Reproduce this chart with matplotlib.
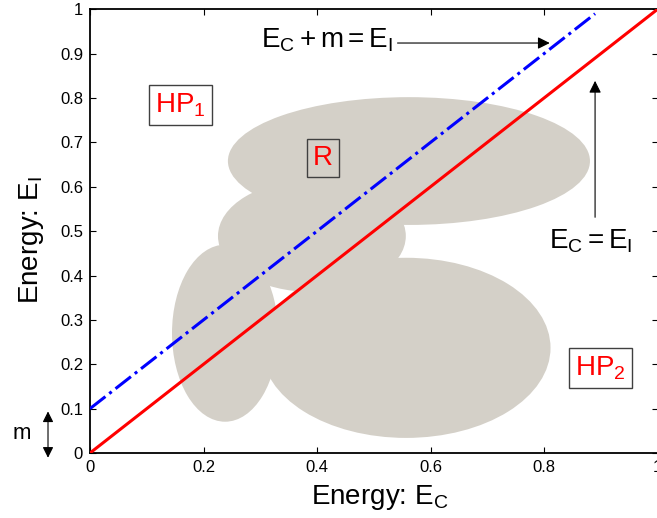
import numpy as np
import matplotlib.pyplot as plt
from matplotlib.patches import Ellipse

plt.rcParams['font.family'] = ['Liberation Sans', 'DejaVu Sans']
plt.rcParams['mathtext.fontset'] = 'custom'
plt.rcParams['mathtext.rm'] = 'Liberation Sans'
plt.rcParams['mathtext.it'] = 'Liberation Sans'

# region ellipses: centre x, centre y, width, height (data units)
ell_cx = [0.562, 0.391, 0.238, 0.557]
ell_cy = [0.658, 0.489, 0.270, 0.237]
ell_w = [0.638, 0.331, 0.187, 0.509]
ell_h = [0.288, 0.252, 0.399, 0.406]

m = 0.1
x_red = np.array([0.0, 1.0])
x_blue = np.array([0.0, 0.89])

x_ticks = [0, 0.2, 0.4, 0.6, 0.8, 1]
x_labels = ['0', '0.2', '0.4', '0.6', '0.8', '1']
y_ticks = [0, 0.1, 0.2, 0.3, 0.4, 0.5, 0.6, 0.7, 0.8, 0.9, 1]
y_labels = ['0', '0.1', '0.2', '0.3', '0.4', '0.5', '0.6', '0.7', '0.8', '0.9', '1']

gray = (212/255, 208/255, 200/255)

fig = plt.figure(figsize=(6.57, 5.18), dpi=100)
ax = fig.add_axes([90/657, 65/518, 567.5/657, 443.7/518])

for cx, cy, w, h in zip(ell_cx, ell_cy, ell_w, ell_h):
    ax.add_patch(Ellipse((cx, cy), w, h, facecolor=gray, edgecolor='none', zorder=1))

ax.plot(x_red, x_red, color='red', linewidth=2.2, zorder=3)
ax.plot(x_blue, x_blue + m, color='blue', linewidth=2.2, linestyle='-.', zorder=3)

ax.set_xlim(0, 1)
ax.set_ylim(0, 1)
ax.set_xticks(x_ticks)
ax.set_xticklabels(x_labels)
ax.set_yticks(y_ticks)
ax.set_yticklabels(y_labels)
ax.tick_params(direction='in', top=True, right=True, length=4, labelsize=12, pad=5)
for s in ax.spines.values():
    s.set_linewidth(1.3)

ax.set_xlabel(r'Energy: $\mathregular{E_C}$', fontsize=20)
ax.set_ylabel(r'Energy: $\mathregular{E_I}$', fontsize=20)
ax.xaxis.set_label_coords(0.511, -0.068)
ax.yaxis.set_label_coords(-0.078, 0.48)

# annotations
arrow_kw = dict(arrowstyle='-|>', color='black', linewidth=0.8, mutation_scale=18)
ax.annotate('', xy=(0.815, 0.924), xytext=(0.537, 0.924), arrowprops=arrow_kw)
ax.text(0.534, 0.913, r'$\mathregular{E_C + m = E_I}$', fontsize=20, ha='right', va='baseline')
ax.annotate('', xy=(0.89, 0.845), xytext=(0.89, 0.525), arrowprops=arrow_kw)
ax.text(0.883, 0.46, r'$\mathregular{E_C = E_I}$', fontsize=20, ha='center', va='baseline')

box_white = dict(boxstyle='square,pad=0.22', facecolor='white', edgecolor='#404040', linewidth=1)
box_clear = dict(boxstyle='square,pad=0.22', facecolor='none', edgecolor='#404040', linewidth=1)
ax.text(0.160, 0.784, r'$\mathregular{HP_1}$', fontsize=20, color='red', ha='center', va='center', bbox=box_white, zorder=4)
ax.text(0.411, 0.665, 'R', fontsize=20, color='red', ha='center', va='center', bbox=box_clear, zorder=4)
ax.text(0.899, 0.192, r'$\mathregular{HP_2}$', fontsize=20, color='red', ha='center', va='center', bbox=box_white, zorder=4)

# m gap marker outside the axes
ax.annotate('', xy=(-0.074, 0.1), xytext=(-0.074, -0.017),
            arrowprops=dict(arrowstyle='<|-|>', color='black', linewidth=0.8, mutation_scale=16),
            annotation_clip=False)
ax.text(-0.12, 0.045, 'm', fontsize=16, ha='center', va='center', clip_on=False)

fig.savefig('out.png', dpi=100)
